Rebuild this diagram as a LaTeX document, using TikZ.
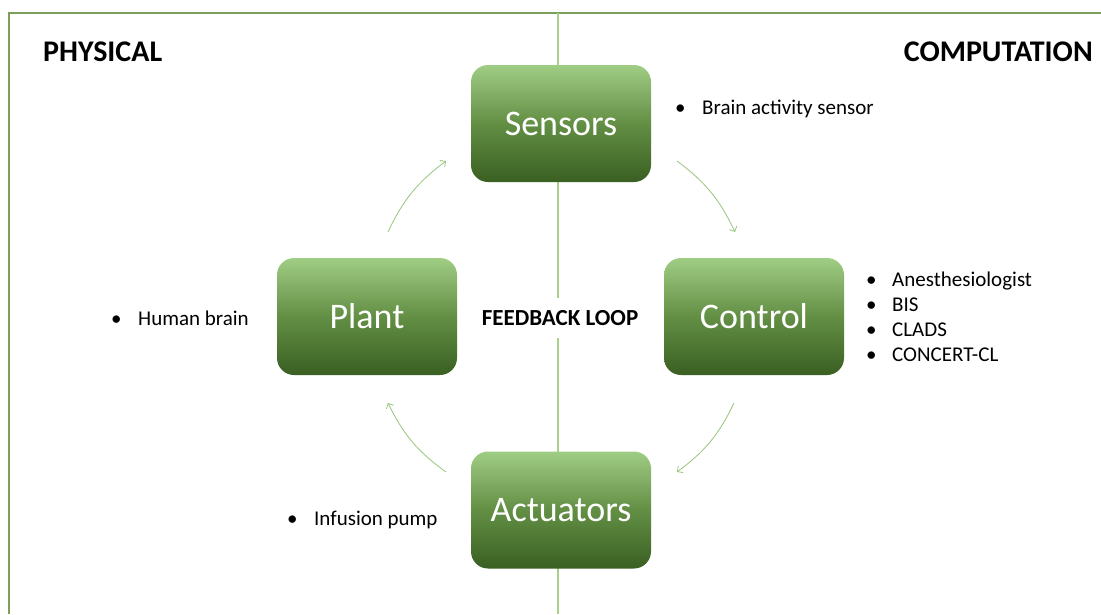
\documentclass[tikz,border=0pt]{standalone}
\usepackage{fontspec}
\setmainfont{Carlito}
\usetikzlibrary{arrows.meta}

\definecolor{frameline}{RGB}{122,160,92}
\definecolor{midline}{RGB}{169,209,142}
\definecolor{arrowgreen}{RGB}{150,196,122}
\definecolor{boxtop}{RGB}{160,205,132}
\definecolor{boxmid}{RGB}{98,143,68}
\definecolor{boxbot}{RGB}{58,95,34}

\newcommand{\bulletmark}[1]{\makebox[#1][l]{•}}

\begin{document}
\begin{tikzpicture}[x=1pt,y=-1pt,
  stage/.style={rounded corners=17pt, minimum width=180pt, minimum height=117pt,
    inner sep=0pt, text=white, font=\fontsize{36}{40}\selectfont,
    top color=boxtop, bottom color=boxbot, middle color=boxmid},
  heading/.style={font=\fontsize{30}{34}\selectfont\bfseries, inner sep=0pt},
  listitem/.style={font=\fontsize{21}{25}\selectfont, inner sep=0pt, anchor=base west},
  flow/.style={arrowgreen, line width=0.8pt, -{Straight Barb[length=4pt,width=8pt]}}
  ]
  \useasboundingbox (0,0) rectangle (1101,614);

  % frame and the divider between the two halves
  \draw[frameline, line width=1.2pt] (9,614) -- (9,13) -- (1101,13);
  \draw[midline, line width=1.8pt] (558,13) -- (558,614);

  % side headings
  \node[heading, anchor=base west] (physical) at (43,61) {PHYSICAL};
  \node[heading, anchor=base east] (computation) at (1093,61) {COMPUTATION};

  % loop label over the divider
  \node[fill=white, font=\fontsize{23}{26}\selectfont\bfseries, inner xsep=3pt,
        minimum height=40pt] (loop) at (560,318) {FEEDBACK LOOP};

  % the four stages of the loop
  \node[stage] (sensors)   at (561,123.5) {Sensors};
  \node[stage] (plant)     at (367,316.5) {Plant};
  \node[stage] (control)   at (754,316.5) {Control};
  \node[stage] (actuators) at (561,510)   {Actuators};

  % arrow end points around the loop
  \coordinate (ps1) at (388,232);
  \coordinate (ps2) at (446,161);
  \coordinate (sc1) at (677,161);
  \coordinate (sc2) at (735,232);
  \coordinate (ca1) at (734,403);
  \coordinate (ca2) at (677,472);
  \coordinate (ap1) at (446,472);
  \coordinate (ap2) at (388,403);

  \draw[flow] (ps1) to[bend left=14] (ps2);
  \draw[flow] (sc1) to[bend left=14] (sc2);
  \draw[flow] (ca1) to[bend left=14] (ca2);
  \draw[flow] (ap1) to[bend left=14] (ap2);

  % notes beside each stage
  \node[listitem] (sensornote) at (675,114) {\bulletmark{27pt}Brain activity sensor};
  \node[listitem] (plantnote)  at (111,325) {\bulletmark{27pt}Human brain};
  \node[listitem] (pumpnote)   at (287,525) {\bulletmark{27pt}Infusion pump};
  \node[listitem] (ctrl1) at (866,286) {\bulletmark{26pt}Anesthesiologist};
  \node[listitem] (ctrl2) at (866,311) {\bulletmark{26pt}BIS};
  \node[listitem] (ctrl3) at (866,336) {\bulletmark{26pt}CLADS};
  \node[listitem] (ctrl4) at (866,361) {\bulletmark{26pt}CONCERT-CL};
\end{tikzpicture}
\end{document}
